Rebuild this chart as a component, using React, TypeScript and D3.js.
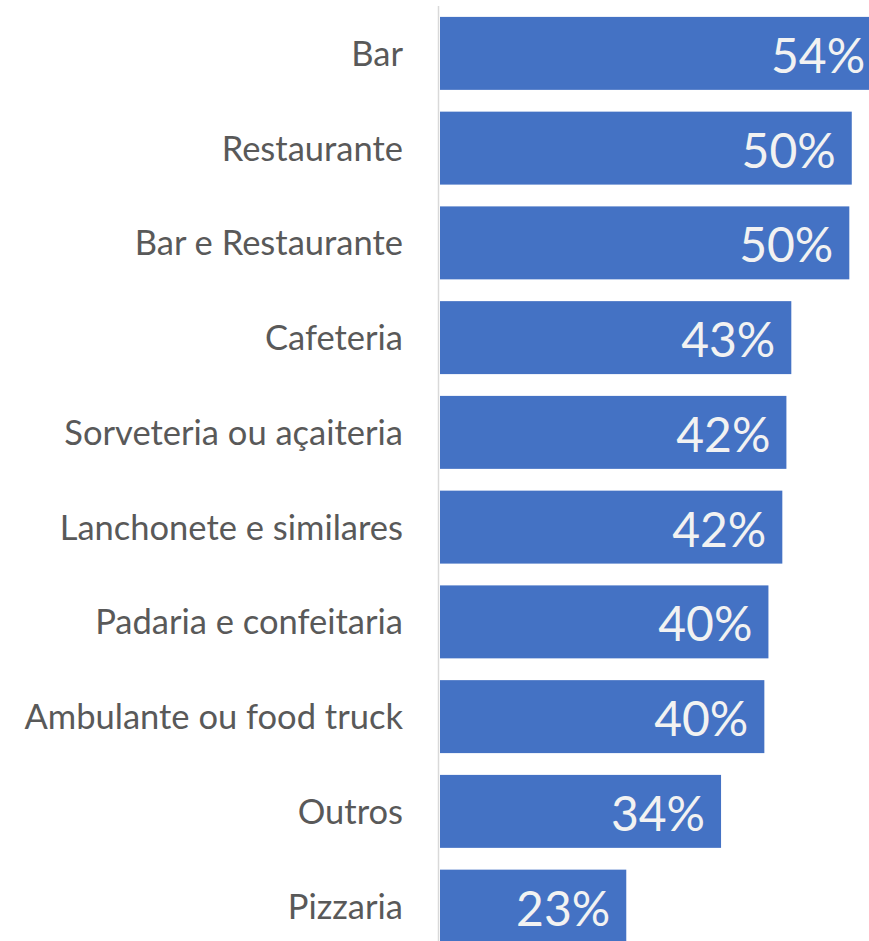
import React from 'react';
import * as d3 from 'd3';

const categories = [
  "Bar", "Restaurante", "Bar e Restaurante", "Cafeteria", "Sorveteria ou açaiteria",
  "Lanchonete e similares", "Padaria e confeitaria", "Ambulante ou food truck", "Outros", "Pizzaria"
];
const values = [54, 50.4, 50.1, 43.0, 42.4, 41.9, 40.2, 39.7, 34.4, 22.8];
const labels = ["54%", "50%", "50%", "43%", "42%", "42%", "40%", "40%", "34%", "23%"];

export default function App() {
  const width = 869;
  const height = 941;

  const x = d3.scaleLinear().domain([0, 100]).range([440, 440 + 817]);
  const y = d3.scaleBand<string>()
    .domain(categories)
    .range([6, 6 + 94.75 * 10])
    .paddingInner(0.23)
    .paddingOuter(0.115);

  return (
    <svg width={width} height={height}
      style={{ position: 'absolute', left: 0, top: 0, display: 'block', background: '#fff' }}>
      <g>
        {categories.map((c, i) => (
          <rect key={c} x={x(0)} y={y(c)} width={x(values[i]) - x(0)} height={y.bandwidth()} fill="#4472c4" />
        ))}
      </g>
      <line x1={438.5} x2={438.5} y1={6} y2={height} stroke="#d9d9d9" strokeWidth={1.5} />
      <g fontFamily="Lato, sans-serif">
        {categories.map((c) => (
          <text key={c} x={403} y={(y(c) ?? 0) + y.bandwidth() / 2 - 1} textAnchor="end"
            dominantBaseline="central" fontSize={34.5} fill="#595959">{c}</text>
        ))}
        {categories.map((c, i) => (
          <text key={c + 'v'} x={x(values[i]) - 16} y={(y(c) ?? 0) + y.bandwidth() / 2 + 1}
            textAnchor="end" dominantBaseline="central" fontSize={48} fill="#f2f2f2">{labels[i]}</text>
        ))}
      </g>
    </svg>
  );
}
